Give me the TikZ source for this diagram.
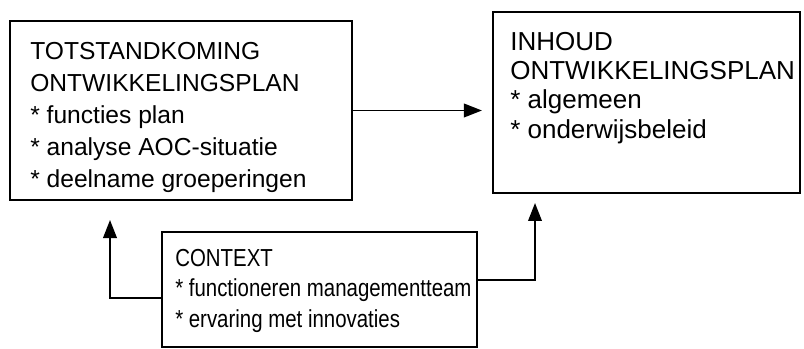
\documentclass[tikz,border=0pt]{standalone}
\usepackage{fontspec}
\setmainfont{Liberation Sans}
\newfontfamily\narrowsans[FakeStretch=0.83]{Liberation Sans}
\usetikzlibrary{arrows.meta,positioning}

\begin{document}
\begin{tikzpicture}[
        box/.style={draw, line width=1.5pt, inner sep=0pt},
        txt/.style={anchor=north west, align=left, inner sep=0pt},
        arr/.style={line width=1.3pt, -{Triangle[length=0.45cm, width=0.34cm]}},
    ]
    \useasboundingbox (0,0) rectangle (20.1,-8.725);

    % Boxes
    \node[box, minimum width=8.55cm, minimum height=4.475cm] at (4.525, -2.7625) (tot) {};
    \node[box, minimum width=7.675cm, minimum height=4.525cm] at (16.1625, -2.5625) (inh) {};
    \node[box, minimum width=7.875cm, minimum height=2.875cm] at (7.9875, -7.2375) (ctx) {};

    % Box texts
    \node[txt, font=\fontsize{17.5}{22.8}\selectfont] at (0.75, -1.05) (tottxt)
        {TOTSTANDKOMING\\ONTWIKKELINGSPLAN\\* functies plan\\* analyse AOC-situatie\\* deelname groeperingen};
    \node[txt, font=\fontsize{18.5}{20.8}\selectfont] at (12.75, -0.8) (inhtxt)
        {INHOUD\\ONTWIKKELINGSPLAN\\* algemeen\\* onderwijsbeleid};
    \node[txt, font=\narrowsans\fontsize{17.5}{21.8}\selectfont] at (4.375, -6.22) (ctxtxt)
        {CONTEXT\\* functioneren managementteam\\* ervaring met innovaties};

    % Arrow tips stop just short of the boxes
    \coordinate (tipa) at (2.75, -5.5);
    \coordinate (tipb) at (13.375, -5.075);

    \draw[arr] (tot.east) -- ([xshift=-0.25cm]inh.west |- tot.east);
    \draw[arr] ([yshift=-0.21cm]ctx.west) -| (tipa);
    \draw[arr] ([yshift=0.24cm]ctx.east) -| (tipb);

\end{tikzpicture}
\end{document}
